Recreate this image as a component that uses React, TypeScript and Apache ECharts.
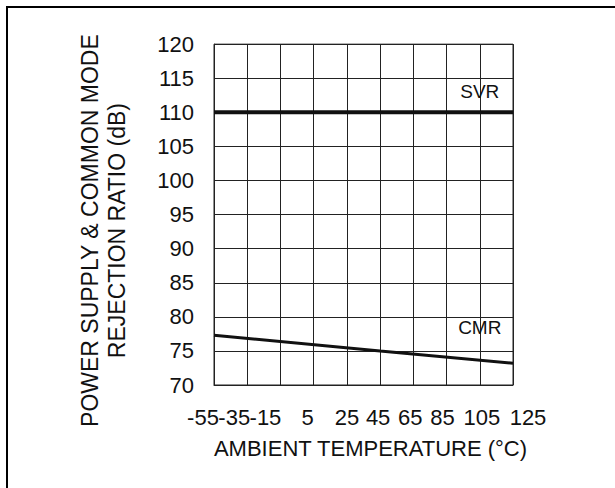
import React, { useEffect, useRef } from "react";
import * as echarts from "echarts";

// ---- data ----
const temperatures = ["-55", "-35", "-15", "5", "25", "45", "65", "85", "105", "125"];
const svrPoints: [string, number][] = [["-55", 110], ["125", 110]];
const cmrPoints: [string, number][] = [["-55", 77.3], ["45", 75.0], ["125", 73.2]];
const yMin = 70;
const yMax = 120;
const yStep = 5;
const svrLabelAt: [string, number] = ["105", 113.1];
const cmrLabelAt: [string, number] = ["105", 78.4];

// ---- style ----
const FONT = "'Liberation Sans', Arial, sans-serif";
const INK = "#111";
const GRIDC = "#222";
// horizontal nudge (px) of each tick label relative to its grid line
const labelShift = [-11, -13, -15, -6, 0, -2, -3, -4, 2, 15];

const rich: Record<string, any> = {};
labelShift.forEach((dx, i) => {
  rich["t" + i] = {
    fontSize: 22,
    fontFamily: FONT,
    color: INK,
    padding: dx < 0 ? [0, -2 * dx, 0, 0] : [0, 0, 0, 2 * dx],
  };
});

export default function App() {
  const ref = useRef<HTMLDivElement>(null);
  useEffect(() => {
    if (!ref.current) return;
    const chart = echarts.init(ref.current, null, { renderer: "svg" });
    chart.setOption({
      animation: false,
      backgroundColor: "#fff",
      textStyle: { fontFamily: FONT, color: INK },
      grid: { left: 214, top: 44, width: 299, height: 341, show: true, borderColor: GRIDC, borderWidth: 1 },
      xAxis: {
        type: "category",
        data: temperatures,
        boundaryGap: false,
        axisLine: { show: true, lineStyle: { color: GRIDC, width: 1 } },
        axisTick: { show: false },
        splitLine: { show: true, interval: 0, lineStyle: { color: GRIDC, width: 1 } },
        axisLabel: {
          interval: 0,
          margin: 21,
          fontSize: 22,
          color: INK,
          fontFamily: FONT,
          formatter: (v: string, i: number) => `{t${i}|${v}}`,
          rich,
        },
        name: "AMBIENT TEMPERATURE (°C)",
        nameLocation: "middle",
        nameGap: 52,
        nameTextStyle: { fontSize: 22, color: INK, fontFamily: FONT, padding: [0, 0, 0, 14] },
      },
      yAxis: {
        type: "value",
        min: yMin,
        max: yMax,
        interval: yStep,
        axisLine: { show: true, lineStyle: { color: GRIDC, width: 1 } },
        axisTick: { show: false },
        splitLine: { show: true, lineStyle: { color: GRIDC, width: 1 } },
        axisLabel: { margin: 20, fontSize: 22, color: INK, fontFamily: FONT },
        name: "POWER SUPPLY & COMMON MODE\nREJECTION RATIO (dB)",
        nameLocation: "middle",
        nameRotate: 90,
        nameGap: 84,
        nameTextStyle: {
          fontSize: 23,
          lineHeight: 27,
          color: INK,
          fontFamily: FONT,
          align: "center",
          padding: [0, 32, 0, 0],
        },
      },
      series: [
        {
          name: "SVR",
          type: "line",
          data: svrPoints,
          symbol: "none",
          lineStyle: { color: INK, width: 4 },
          markPoint: {
            symbol: "rect",
            symbolSize: 1,
            itemStyle: { color: "rgba(0,0,0,0)" },
            label: { show: true, position: "inside", formatter: "SVR", fontSize: 19, color: INK, fontFamily: FONT },
            data: [{ coord: svrLabelAt }],
          },
        },
        {
          name: "CMR",
          type: "line",
          data: cmrPoints,
          symbol: "none",
          lineStyle: { color: INK, width: 3 },
          markPoint: {
            symbol: "rect",
            symbolSize: 1,
            itemStyle: { color: "rgba(0,0,0,0)" },
            label: { show: true, position: "inside", formatter: "CMR", fontSize: 19, color: INK, fontFamily: FONT },
            data: [{ coord: cmrLabelAt }],
          },
        },
      ],
      graphic: [
        {
          type: "rect",
          shape: { x: 7, y: 7, width: 700, height: 600 },
          style: { fill: "none", stroke: "#000", lineWidth: 2 },
          silent: true,
        },
      ],
    });
    return () => chart.dispose();
  }, []);
  return (
    <div
      ref={ref}
      style={{ position: "fixed", left: 0, top: 0, width: 615, height: 488, background: "#fff" }}
    />
  );
}
